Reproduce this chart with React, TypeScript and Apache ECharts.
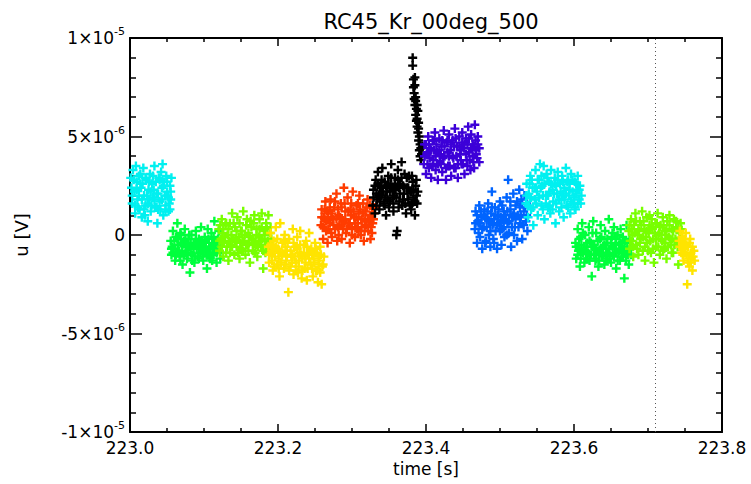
import React, { useEffect, useRef } from "react";
import * as echarts from "echarts";

// ---- data (time [s], u in µV; converted to V when the series are built) ----
const cyan1: [number, number][] = [
  [223.001,2.9],[223.003,1.6],[223.004,3.3],[223.006,2.2],[223.007,1.1],[223.009,2.7],[223.010,1.8],[223.012,3.0],[223.013,1.3],[223.015,2.4],[223.016,0.9],[223.018,3.4],[223.019,2.0],[223.021,1.5],[223.022,2.8],[223.024,0.7],[223.025,2.3],[223.027,3.1],[223.028,1.2],[223.030,2.6],[223.031,1.9],[223.033,3.5],[223.034,1.4],[223.036,2.1],[223.037,0.6],[223.039,2.9],[223.040,1.7],[223.042,3.2],[223.043,2.4],[223.045,1.0],[223.046,2.7],[223.048,1.5],[223.049,3.0],[223.051,2.0],[223.052,1.2],[223.054,2.5],[223.055,1.8],[223.056,2.9],[223.002,2.4],[223.008,3.5],[223.014,2.6],[223.020,1.0],[223.026,1.8],[223.032,2.3],[223.038,1.3],[223.044,3.6],[223.050,2.2],[223.053,1.6]
];
const cyan1Core: [number, number][] = [
  [223.003,2.0],[223.005,2.8],[223.007,1.5],[223.009,2.3],[223.011,1.4],[223.012,2.0],[223.014,3.1],[223.016,1.8],[223.017,2.6],[223.019,1.3],[223.021,2.9],[223.023,2.0],[223.024,1.6],[223.026,2.7],[223.028,2.2],[223.029,1.5],[223.031,3.0],[223.033,1.8],[223.035,2.7],[223.036,1.4],[223.038,2.1],[223.040,2.8],[223.041,1.3],[223.043,1.8],[223.045,2.5],[223.047,2.0],[223.048,1.2],[223.050,2.7],[223.052,1.9],[223.054,1.3],[223.055,2.2]
];
const green1: [number, number][] = [
  [223.055,-0.3],[223.056,-1.0],[223.058,0.2],[223.059,-0.7],[223.061,-1.3],[223.062,-0.1],[223.064,0.6],[223.065,-0.5],[223.067,-1.1],[223.068,0.1],[223.070,-0.8],[223.071,-1.5],[223.073,-0.3],[223.074,0.3],[223.076,-0.9],[223.077,-1.2],[223.079,-0.2],[223.080,-0.6],[223.081,-1.9],[223.083,0.0],[223.084,-1.0],[223.086,-0.4],[223.087,-1.4],[223.089,0.2],[223.090,-0.7],[223.092,-1.1],[223.093,-0.2],[223.095,-0.9],[223.096,0.4],[223.098,-0.5],[223.099,-1.3],[223.101,-0.1],[223.102,-0.8],[223.104,-1.7],[223.105,0.3],[223.107,-0.6],[223.108,-1.2],[223.110,0.1],[223.111,-0.4],[223.113,-1.0],[223.114,0.7],[223.116,-0.3],[223.117,-1.4],[223.119,-0.7],[223.120,0.2],[223.122,-0.9],[223.123,-0.2],[223.057,-0.6],[223.063,-0.9],[223.069,-0.4],[223.075,-0.6],[223.082,-0.9],[223.088,-0.5],[223.094,-0.6],[223.100,-0.4],[223.106,-1.0],[223.112,-0.7],[223.118,-0.5]
];
const green1Core: [number, number][] = [
  [223.056,-0.7],[223.058,-0.9],[223.060,-0.3],[223.062,-1.0],[223.064,-0.2],[223.066,-0.8],[223.068,-1.3],[223.069,0.0],[223.071,-0.5],[223.073,-1.0],[223.075,-0.2],[223.077,-0.6],[223.078,-1.0],[223.080,0.0],[223.082,-0.4],[223.084,-1.3],[223.086,-0.7],[223.088,-1.1],[223.089,-0.2],[223.091,-0.4],[223.093,-1.2],[223.095,-0.3],[223.097,-0.8],[223.098,-1.1],[223.100,-0.7],[223.102,-0.3],[223.104,-1.0],[223.106,-0.2],[223.108,-0.6],[223.109,-0.9],[223.111,-1.3],[223.113,-0.1],[223.115,-0.7],[223.117,-0.9],[223.119,-0.2],[223.121,-0.5],[223.122,-1.2]
];
const yellowGreen1: [number, number][] = [
  [223.120,0.3],[223.121,-0.8],[223.123,-0.2],[223.124,0.8],[223.126,-1.1],[223.127,-0.4],[223.129,0.5],[223.130,-0.9],[223.132,0.0],[223.133,-1.3],[223.135,0.6],[223.136,-0.5],[223.138,1.1],[223.139,-0.2],[223.141,-1.0],[223.142,0.4],[223.144,-0.6],[223.145,0.9],[223.147,-0.1],[223.148,-1.2],[223.150,0.2],[223.151,-0.7],[223.153,1.2],[223.154,-0.3],[223.156,-1.0],[223.157,0.5],[223.159,-0.5],[223.160,0.1],[223.162,-1.4],[223.163,0.7],[223.165,-0.2],[223.166,-0.8],[223.168,1.0],[223.169,-0.4],[223.171,0.3],[223.172,-1.1],[223.174,-0.1],[223.175,0.8],[223.177,-0.6],[223.178,1.1],[223.180,-1.7],[223.181,0.2],[223.183,-0.9],[223.184,0.6],[223.186,-0.3],[223.187,1.0],[223.189,-0.7],[223.190,0.4],[223.191,-0.2],[223.125,0.1],[223.134,-0.3],[223.143,-0.2],[223.152,-0.3],[223.161,-0.4],[223.170,-0.5],[223.179,-0.2],[223.188,-1.0]
];
const yellowGreen1Core: [number, number][] = [
  [223.121,-0.3],[223.122,0.5],[223.124,-0.6],[223.126,0.3],[223.128,-0.1],[223.130,0.6],[223.131,-0.6],[223.133,0.3],[223.135,-0.9],[223.137,0.0],[223.138,-0.6],[223.140,0.6],[223.142,-0.3],[223.144,0.2],[223.146,-0.9],[223.148,0.6],[223.149,-0.4],[223.151,0.2],[223.153,-0.8],[223.155,0.0],[223.157,-0.5],[223.158,0.8],[223.160,-0.8],[223.162,-0.1],[223.164,0.4],[223.166,-0.4],[223.167,0.6],[223.169,-0.9],[223.171,0.0],[223.173,-0.6],[223.175,0.3],[223.176,-0.3],[223.178,0.4],[223.180,-0.8],[223.182,0.0],[223.184,-0.5],[223.185,0.3],[223.187,-0.4],[223.189,0.1],[223.191,-0.8]
];
const yellow1: [number, number][] = [
  [223.187,-0.6],[223.188,-1.4],[223.190,0.1],[223.191,-0.9],[223.193,-1.8],[223.194,-0.3],[223.196,-1.1],[223.197,0.4],[223.199,-1.5],[223.200,-0.7],[223.202,-2.1],[223.203,0.6],[223.205,-1.0],[223.206,-0.4],[223.208,-1.7],[223.209,0.0],[223.211,-1.3],[223.212,-0.8],[223.214,-2.9],[223.215,-0.2],[223.217,-1.6],[223.218,-1.1],[223.220,0.3],[223.221,-2.0],[223.223,-0.6],[223.224,-1.4],[223.226,-0.1],[223.227,-1.9],[223.229,-0.9],[223.230,0.2],[223.232,-2.2],[223.233,-1.2],[223.235,-0.5],[223.236,-1.7],[223.238,-0.3],[223.239,-2.3],[223.241,-1.0],[223.242,0.1],[223.244,-1.5],[223.245,-0.7],[223.247,-2.1],[223.248,-1.2],[223.250,-0.4],[223.251,-1.8],[223.253,-0.9],[223.254,-2.4],[223.256,-1.3],[223.257,-0.6],[223.259,-2.5],[223.260,-1.6],[223.262,-1.1],[223.192,-0.6],[223.201,-1.2],[223.210,-0.6],[223.219,-1.0],[223.228,-1.3],[223.237,-1.1],[223.246,-1.0],[223.255,-1.5]
];
const yellow1Core: [number, number][] = [
  [223.188,-1.0],[223.190,-0.5],[223.192,-1.3],[223.194,-0.8],[223.195,-1.6],[223.197,-0.6],[223.199,-0.2],[223.201,-1.7],[223.203,-0.9],[223.204,-1.4],[223.206,-0.9],[223.208,-0.3],[223.210,-1.5],[223.212,-1.1],[223.213,-0.4],[223.215,-1.8],[223.217,-0.8],[223.219,-1.4],[223.221,-0.4],[223.222,-1.1],[223.224,-1.8],[223.226,-0.7],[223.228,-1.6],[223.230,-0.5],[223.231,-1.0],[223.233,-1.8],[223.235,-0.9],[223.237,-1.4],[223.239,-0.6],[223.240,-1.7],[223.242,-1.2],[223.244,-0.8],[223.246,-1.7],[223.248,-0.9],[223.249,-1.4],[223.251,-0.7],[223.253,-1.8],[223.255,-1.1],[223.257,-1.9],[223.258,-1.0],[223.261,-1.5]
];
const orange1: [number, number][] = [
  [223.258,0.5],[223.259,1.3],[223.261,-0.2],[223.262,0.9],[223.264,1.7],[223.265,0.2],[223.267,-0.4],[223.268,1.1],[223.270,0.6],[223.271,1.8],[223.273,-0.1],[223.274,0.8],[223.276,1.4],[223.277,0.3],[223.279,2.1],[223.280,-0.3],[223.282,1.0],[223.283,0.5],[223.285,1.6],[223.286,-0.2],[223.288,0.7],[223.289,2.4],[223.291,1.2],[223.292,0.1],[223.294,1.9],[223.295,0.6],[223.297,-0.4],[223.298,1.3],[223.300,0.4],[223.301,2.2],[223.303,0.9],[223.304,-0.1],[223.306,1.5],[223.307,0.3],[223.309,1.1],[223.310,2.0],[223.312,0.0],[223.313,0.8],[223.315,1.6],[223.316,-0.3],[223.318,1.2],[223.319,0.5],[223.321,1.8],[223.322,0.2],[223.324,1.0],[223.325,-0.2],[223.327,1.4],[223.328,0.6],[223.330,1.1],[223.263,0.8],[223.272,0.9],[223.281,0.4],[223.290,0.6],[223.299,1.0],[223.308,0.6],[223.317,0.7],[223.326,0.4]
];
const orange1Core: [number, number][] = [
  [223.259,0.9],[223.261,0.4],[223.263,1.3],[223.265,0.7],[223.266,1.2],[223.268,0.3],[223.270,1.4],[223.272,0.1],[223.273,1.1],[223.275,0.5],[223.277,1.7],[223.279,0.8],[223.281,1.3],[223.282,0.0],[223.284,0.9],[223.286,1.4],[223.288,0.3],[223.290,1.6],[223.291,0.8],[223.293,0.3],[223.295,1.2],[223.297,0.6],[223.299,1.6],[223.300,0.0],[223.302,1.2],[223.304,0.6],[223.306,0.9],[223.308,1.6],[223.309,0.2],[223.311,1.3],[223.313,0.4],[223.315,1.1],[223.317,0.2],[223.318,0.8],[223.320,1.4],[223.322,0.7],[223.324,1.5],[223.326,0.9],[223.327,0.1],[223.329,0.8],[223.331,1.4]
];
const black1: [number, number][] = [
  [223.328,1.5],[223.329,2.3],[223.331,1.1],[223.332,2.8],[223.334,1.8],[223.335,3.2],[223.337,1.3],[223.338,2.5],[223.340,2.0],[223.341,3.4],[223.343,1.6],[223.344,2.7],[223.346,1.0],[223.347,2.2],[223.349,3.0],[223.350,1.4],[223.352,2.6],[223.353,3.6],[223.355,1.9],[223.356,1.2],[223.358,2.9],[223.359,2.3],[223.361,0.2],[223.362,3.3],[223.364,1.7],[223.365,2.6],[223.367,3.7],[223.368,1.5],[223.370,2.1],[223.371,3.1],[223.373,1.1],[223.374,2.4],[223.376,1.8],[223.377,3.0],[223.379,2.2],[223.380,1.3],[223.382,2.7],[223.383,1.9],[223.385,1.0],[223.386,2.5],[223.388,1.6],[223.360,0.0],[223.333,2.1],[223.339,2.4],[223.345,1.9],[223.351,2.2],[223.357,2.0],[223.363,2.4],[223.369,2.5],[223.375,2.1],[223.381,1.6],[223.387,2.0],[223.336,2.0],[223.354,2.4]
];
const black1Core: [number, number][] = [
  [223.329,1.9],[223.331,2.5],[223.333,1.5],[223.335,2.6],[223.337,2.1],[223.338,1.7],[223.340,2.8],[223.342,2.2],[223.344,1.5],[223.346,2.5],[223.348,1.8],[223.349,2.6],[223.351,1.7],[223.353,2.9],[223.355,2.3],[223.356,1.6],[223.358,2.5],[223.360,1.9],[223.362,2.8],[223.363,1.4],[223.365,2.1],[223.367,2.9],[223.369,1.8],[223.371,2.4],[223.372,1.6],[223.374,2.9],[223.376,2.4],[223.378,1.5],[223.380,2.2],[223.381,3.0],[223.383,2.3],[223.385,1.7],[223.387,2.8],[223.389,2.2]
];
const blackSpike: [number, number][] = [
  [223.382,9.0],[223.382,8.6],[223.383,7.9],[223.385,7.6],[223.384,7.2],[223.386,7.0],[223.385,6.6],[223.387,6.4],[223.386,6.1],[223.388,5.9],[223.389,6.3],[223.388,5.5],[223.390,5.7],[223.389,5.2],[223.391,5.0],[223.390,4.8],[223.392,4.6],[223.391,4.3],[223.393,4.4],[223.392,4.0],[223.394,4.1],[223.393,3.8],[223.395,4.5],[223.384,6.9],[223.387,5.8],[223.383,7.5],[223.386,6.8],[223.388,6.6],[223.390,5.4],[223.385,8.0]
];
const indigo1: [number, number][] = [
  [223.397,3.6],[223.398,4.6],[223.400,3.1],[223.401,4.1],[223.403,5.0],[223.404,3.4],[223.406,4.4],[223.407,2.9],[223.409,4.8],[223.410,3.8],[223.412,5.2],[223.413,3.3],[223.415,4.2],[223.416,2.8],[223.418,4.9],[223.419,3.7],[223.421,4.5],[223.422,3.2],[223.424,5.3],[223.425,4.0],[223.427,2.8],[223.428,4.7],[223.430,3.5],[223.431,5.1],[223.433,4.3],[223.434,3.0],[223.436,4.8],[223.437,3.9],[223.439,5.4],[223.440,3.4],[223.442,4.5],[223.443,2.9],[223.445,5.0],[223.446,4.1],[223.448,3.6],[223.449,5.2],[223.451,4.4],[223.452,3.1],[223.454,4.9],[223.455,3.8],[223.457,5.5],[223.458,4.2],[223.460,3.3],[223.461,5.1],[223.463,4.6],[223.464,3.7],[223.466,5.6],[223.467,4.3],[223.469,3.9],[223.470,5.0],[223.472,4.4],[223.402,4.2],[223.411,4.3],[223.420,4.1],[223.429,4.2],[223.438,4.5],[223.447,4.3],[223.456,4.6],[223.465,4.5]
];
const indigo1Core: [number, number][] = [
  [223.398,4.0],[223.400,4.6],[223.402,3.6],[223.404,4.6],[223.405,3.9],[223.407,4.3],[223.409,3.5],[223.411,4.8],[223.413,4.0],[223.414,4.6],[223.416,3.6],[223.418,4.3],[223.420,3.6],[223.422,4.8],[223.423,3.9],[223.425,4.5],[223.427,3.4],[223.429,4.8],[223.431,4.0],[223.432,3.5],[223.434,4.6],[223.436,4.0],[223.438,3.4],[223.440,4.9],[223.441,4.0],[223.443,3.6],[223.445,4.5],[223.447,3.8],[223.449,4.7],[223.450,3.6],[223.452,4.6],[223.454,4.1],[223.456,3.5],[223.458,4.9],[223.459,3.8],[223.461,4.4],[223.463,4.0],[223.465,3.4],[223.467,4.8],[223.468,4.1],[223.470,4.6],[223.472,3.7]
];
const blue1: [number, number][] = [
  [223.466,0.3],[223.467,1.2],[223.469,-0.4],[223.470,0.7],[223.472,1.5],[223.473,-0.1],[223.475,0.9],[223.476,-0.7],[223.478,0.4],[223.479,1.3],[223.481,-0.3],[223.482,0.8],[223.484,1.6],[223.485,0.0],[223.487,-0.6],[223.488,1.1],[223.489,2.2],[223.490,0.5],[223.491,-0.2],[223.493,1.4],[223.494,0.2],[223.496,-0.7],[223.497,1.0],[223.499,0.6],[223.500,1.7],[223.502,-0.5],[223.503,0.3],[223.505,1.2],[223.506,-0.1],[223.508,0.8],[223.509,1.9],[223.511,2.8],[223.512,0.1],[223.514,1.3],[223.515,-0.6],[223.517,0.9],[223.518,2.1],[223.520,0.4],[223.521,1.5],[223.523,-0.3],[223.524,1.0],[223.526,2.3],[223.527,0.6],[223.529,1.8],[223.530,-0.2],[223.532,1.2],[223.533,2.0],[223.535,0.7],[223.536,1.6],[223.537,0.2],[223.471,0.6],[223.480,0.9],[223.492,0.8],[223.501,0.9],[223.510,0.6],[223.519,1.1],[223.528,1.0]
];
const blue1Core: [number, number][] = [
  [223.467,0.6],[223.469,1.0],[223.471,0.1],[223.473,0.6],[223.474,1.2],[223.476,0.3],[223.478,1.0],[223.480,-0.4],[223.482,0.4],[223.483,1.2],[223.485,0.7],[223.487,0.2],[223.489,1.4],[223.491,0.6],[223.492,-0.4],[223.494,1.0],[223.496,0.5],[223.498,1.3],[223.500,0.2],[223.501,0.7],[223.503,1.5],[223.505,0.4],[223.507,1.0],[223.509,0.0],[223.510,1.2],[223.512,0.7],[223.514,1.7],[223.516,0.4],[223.518,1.0],[223.519,0.0],[223.521,0.8],[223.523,1.7],[223.525,0.4],[223.527,1.4],[223.528,0.9],[223.530,1.6],[223.532,0.5],[223.534,1.4],[223.536,1.0]
];
const cyan2: [number, number][] = [
  [223.535,1.6],[223.536,2.6],[223.538,0.9],[223.539,2.1],[223.541,3.0],[223.542,1.3],[223.544,2.4],[223.545,0.5],[223.547,1.8],[223.548,3.3],[223.550,2.2],[223.551,1.0],[223.553,2.8],[223.554,3.6],[223.556,1.5],[223.557,2.5],[223.559,3.5],[223.560,0.8],[223.562,2.0],[223.563,3.1],[223.565,1.4],[223.566,2.7],[223.568,1.1],[223.569,3.3],[223.571,2.3],[223.572,1.7],[223.574,2.9],[223.575,0.6],[223.577,2.1],[223.578,3.2],[223.580,1.2],[223.581,2.6],[223.583,1.8],[223.584,3.0],[223.586,0.9],[223.587,2.4],[223.589,3.4],[223.590,1.5],[223.592,2.8],[223.593,2.0],[223.595,1.1],[223.596,3.1],[223.598,2.2],[223.599,1.6],[223.601,2.7],[223.602,1.3],[223.604,2.3],[223.605,3.0],[223.607,1.8],[223.608,2.5],[223.610,2.0],[223.540,1.9],[223.549,2.4],[223.558,2.0],[223.567,2.2],[223.576,2.5],[223.585,2.1],[223.594,2.3],[223.603,2.1]
];
const cyan2Core: [number, number][] = [
  [223.536,2.0],[223.538,1.5],[223.540,2.6],[223.542,1.9],[223.543,2.8],[223.545,1.4],[223.547,2.4],[223.549,1.6],[223.551,2.8],[223.553,1.9],[223.555,2.4],[223.556,3.0],[223.558,1.3],[223.560,2.6],[223.562,1.6],[223.564,2.9],[223.565,2.0],[223.567,1.5],[223.569,2.6],[223.571,1.3],[223.573,2.1],[223.574,2.6],[223.576,1.6],[223.578,2.8],[223.580,1.8],[223.582,2.2],[223.583,1.4],[223.585,2.7],[223.587,1.8],[223.589,2.1],[223.591,2.7],[223.592,1.4],[223.594,2.6],[223.596,1.7],[223.598,2.8],[223.600,1.9],[223.601,1.4],[223.603,2.6],[223.605,1.6],[223.607,2.3],[223.609,1.6]
];
const green2: [number, number][] = [
  [223.602,-0.4],[223.603,-1.2],[223.605,0.3],[223.606,-0.8],[223.608,-1.6],[223.609,-0.1],[223.611,0.6],[223.612,-0.9],[223.614,-1.4],[223.615,0.0],[223.617,-0.6],[223.618,-1.2],[223.620,0.4],[223.621,-0.3],[223.623,-1.0],[223.624,-2.1],[223.626,0.7],[223.627,-0.5],[223.629,-1.3],[223.630,0.1],[223.632,-0.8],[223.633,-1.6],[223.635,-0.2],[223.636,0.5],[223.638,-1.1],[223.639,-0.6],[223.641,-1.5],[223.642,0.2],[223.644,-0.4],[223.645,-1.2],[223.647,0.8],[223.648,-0.7],[223.650,-1.4],[223.651,-0.1],[223.653,-1.0],[223.654,0.4],[223.656,-0.5],[223.657,-1.7],[223.659,0.0],[223.660,-0.9],[223.662,-1.3],[223.663,0.3],[223.665,-0.6],[223.666,-1.1],[223.668,-2.2],[223.669,-0.3],[223.671,0.5],[223.672,-0.8],[223.674,-1.5],[223.675,-0.2],[223.677,-1.0],[223.607,-0.7],[223.616,-0.8],[223.625,-0.6],[223.634,-0.9],[223.643,-0.7],[223.652,-0.6],[223.661,-0.5],[223.670,-0.9]
];
const green2Core: [number, number][] = [
  [223.603,-0.6],[223.605,-1.0],[223.607,-0.2],[223.609,-1.2],[223.610,-0.5],[223.612,0.1],[223.614,-0.8],[223.616,-1.2],[223.618,-0.4],[223.619,-0.9],[223.621,-1.3],[223.623,-0.4],[223.625,0.1],[223.627,-1.0],[223.628,-0.7],[223.630,-1.2],[223.632,-0.3],[223.634,-1.3],[223.636,-0.7],[223.637,-0.1],[223.639,-1.0],[223.641,-0.5],[223.643,-1.3],[223.645,-0.2],[223.646,-0.9],[223.648,-1.2],[223.650,-0.4],[223.652,0.1],[223.654,-1.1],[223.655,-0.7],[223.657,-0.2],[223.659,-1.3],[223.661,-0.8],[223.663,-0.4],[223.664,-1.1],[223.666,-0.1],[223.668,-0.7],[223.670,-1.3],[223.672,-0.4],[223.673,-1.0],[223.676,-0.6]
];
const yellowGreen2: [number, number][] = [
  [223.674,0.2],[223.675,-0.7],[223.677,0.8],[223.678,-0.3],[223.680,-1.1],[223.681,0.5],[223.683,1.1],[223.684,-0.5],[223.686,0.0],[223.687,-1.0],[223.689,0.7],[223.690,-0.2],[223.692,1.2],[223.693,-0.8],[223.695,0.3],[223.696,-1.3],[223.698,0.9],[223.699,-0.4],[223.701,0.1],[223.702,1.0],[223.704,-0.9],[223.705,0.4],[223.707,-0.2],[223.708,-1.4],[223.710,0.6],[223.711,-0.6],[223.713,1.1],[223.714,0.0],[223.716,-1.0],[223.717,0.5],[223.719,-0.3],[223.720,0.9],[223.722,-0.7],[223.723,0.2],[223.725,-1.2],[223.726,0.7],[223.728,-0.1],[223.729,1.0],[223.731,-0.5],[223.732,0.3],[223.734,-0.9],[223.735,0.8],[223.737,-0.2],[223.738,0.4],[223.740,-0.6],[223.741,-1.5],[223.743,0.1],[223.744,0.6],[223.745,-0.3],[223.679,0.0],[223.688,0.2],[223.697,-0.1],[223.706,0.3],[223.715,0.1],[223.724,0.0],[223.733,-0.2],[223.742,0.2]
];
const yellowGreen2Core: [number, number][] = [
  [223.675,0.5],[223.676,-0.3],[223.678,0.3],[223.680,-0.6],[223.682,0.1],[223.684,0.7],[223.685,-0.7],[223.687,0.3],[223.689,-0.4],[223.691,0.5],[223.693,-0.1],[223.694,0.7],[223.696,-0.6],[223.698,0.2],[223.700,-0.8],[223.702,0.5],[223.703,-0.3],[223.705,0.8],[223.707,-0.7],[223.709,0.1],[223.711,-0.2],[223.712,0.6],[223.714,-0.6],[223.716,0.4],[223.718,-0.2],[223.720,-0.8],[223.721,0.5],[223.723,-0.4],[223.725,0.3],[223.727,-0.6],[223.729,0.5],[223.730,-0.2],[223.732,-0.9],[223.734,0.2],[223.736,-0.5],[223.738,0.7],[223.739,-0.3],[223.741,0.4],[223.743,-0.6],[223.745,0.3]
];
const yellow2: [number, number][] = [
  [223.742,-0.3],[223.743,0.2],[223.745,-0.9],[223.746,-0.1],[223.748,-1.3],[223.749,-0.5],[223.751,0.1],[223.752,-1.0],[223.753,-2.5],[223.754,-0.6],[223.756,-1.6],[223.757,-0.2],[223.759,-1.1],[223.760,-1.8],[223.762,-0.8],[223.763,-1.3],[223.747,-0.7],[223.755,-1.2],[223.758,-0.9],[223.750,-0.4],
  [223.743,-0.6],[223.745,-0.3],[223.747,-1.0],[223.749,-0.2],[223.750,-0.9],[223.752,-0.5],[223.754,-1.4],[223.756,-0.4],[223.758,-1.4],[223.760,-0.6],[223.761,-1.1]
];

const segments: { data: [number, number][]; color: string }[] = [
  { data: [...cyan1, ...cyan1Core], color: "#00F0F0" },
  { data: [...green1, ...green1Core], color: "#00FF3C" },
  { data: [...yellowGreen1, ...yellowGreen1Core], color: "#78FF00" },
  { data: [...yellow1, ...yellow1Core], color: "#FFE400" },
  { data: [...orange1, ...orange1Core], color: "#FF3C00" },
  { data: [...black1, ...black1Core, ...blackSpike], color: "#000000" },
  { data: [...indigo1, ...indigo1Core], color: "#3C00D8" },
  { data: [...blue1, ...blue1Core], color: "#0064FF" },
  { data: [...cyan2, ...cyan2Core], color: "#00F0F0" },
  { data: [...green2, ...green2Core], color: "#00FF3C" },
  { data: [...yellowGreen2, ...yellowGreen2Core], color: "#78FF00" },
  { data: yellow2, color: "#FFE400" },
];

const markerTime = 223.707;
const xTickLabels = ["223.0", "223.2", "223.4", "223.6", "223.8"];
const yTickMicro = [-10, -5, 0, 5, 10];
const yTickMantissa = ["-1×10", "-5×10", "0", "5×10", "1×10"];
const yTickExponent = ["-5", "-6", "", "-6", "-5"];

const FONT = "DejaVu Sans";
const PLUS = "path://M0,5L10,5M5,0L5,10";

export default function App() {
  const ref = useRef<HTMLDivElement>(null);
  useEffect(() => {
    if (!ref.current) return;
    const chart = echarts.init(ref.current, undefined, { renderer: "svg" });
    const axisLine = { show: true, onZero: false, lineStyle: { color: "#000", width: 2 } };
    const xCommon = {
      type: "value" as const,
      min: 223.0,
      max: 223.8,
      interval: 0.2,
      axisLine,
      splitLine: { show: false },
      axisTick: { inside: true, length: 8, lineStyle: { color: "#000", width: 1.5 } },
      minorTick: { show: true, splitNumber: 4, length: 4, lineStyle: { color: "#000", width: 1.5 } },
    };
    const yCommon = {
      type: "value" as const,
      min: -1e-5,
      max: 1e-5,
      interval: 5e-6,
      axisLine,
      splitLine: { show: false },
      axisTick: { inside: true, length: 12, lineStyle: { color: "#000", width: 1.5 } },
      minorTick: { show: true, splitNumber: 5, length: 6, lineStyle: { color: "#000", width: 1.5 } },
    };
    const series: any[] = segments.map((s, i) => ({
      type: "scatter",
      data: s.data.map(([t, u]) => [t, u * 1e-6]),
      symbol: PLUS,
      symbolSize: 9,
      itemStyle: { color: s.color, borderColor: s.color, borderWidth: 2.4, opacity: 1 },
      silent: true,
      z: 2 + i,
      ...(i === 0
        ? {
            markLine: {
              silent: true,
              symbol: "none",
              label: { show: false },
              lineStyle: { color: "#555", type: [1, 3], width: 1 },
              data: [{ xAxis: markerTime }],
            },
          }
        : {}),
    }));
    chart.setOption({
      animation: false,
      backgroundColor: "#fff",
      title: {
        text: "RC45_Kr_00deg_500",
        left: 426,
        top: 6,
        textAlign: "center",
        textStyle: { fontFamily: FONT, fontSize: 21, fontWeight: "normal", color: "#000" },
      },
      grid: { left: 130, right: 29, top: 38, bottom: 52 },
      xAxis: [
        {
          ...xCommon,
          position: "bottom",
          name: "time [s]",
          nameLocation: "middle",
          nameGap: 24,
          nameTextStyle: { fontFamily: FONT, fontSize: 17, color: "#000" },
          axisLabel: {
            margin: 7,
            fontFamily: FONT,
            fontSize: 17,
            color: "#000",
            formatter: (v: number) => xTickLabels[Math.round((v - 223.0) / 0.2)] ?? "",
          },
        },
        { ...xCommon, position: "top", axisLabel: { show: false } },
      ],
      yAxis: [
        {
          ...yCommon,
          position: "left",
          name: "u [V]",
          nameLocation: "middle",
          nameGap: 100,
          nameTextStyle: { fontFamily: FONT, fontSize: 18, color: "#000" },
          axisLabel: {
            margin: 5,
            fontFamily: FONT,
            color: "#000",
            formatter: (v: number) => {
              const idx = yTickMicro.indexOf(Math.round(v * 1e6));
              if (idx < 0) return "";
              const e = yTickExponent[idx];
              return e ? `{b|${yTickMantissa[idx]}}{s|${e}}` : `{b|${yTickMantissa[idx]}}`;
            },
            rich: {
              b: { fontFamily: FONT, fontSize: 17, color: "#000", lineHeight: 24 },
              s: { fontFamily: FONT, fontSize: 11, color: "#000", lineHeight: 12, verticalAlign: "top" },
            },
          },
        },
        { ...yCommon, position: "right", axisLabel: { show: false } },
      ],
      series,
    });
    return () => chart.dispose();
  }, []);
  return (
    <div
      ref={ref}
      style={{ position: "fixed", left: 0, top: 0, width: 751, height: 484, background: "#fff" }}
    />
  );
}
